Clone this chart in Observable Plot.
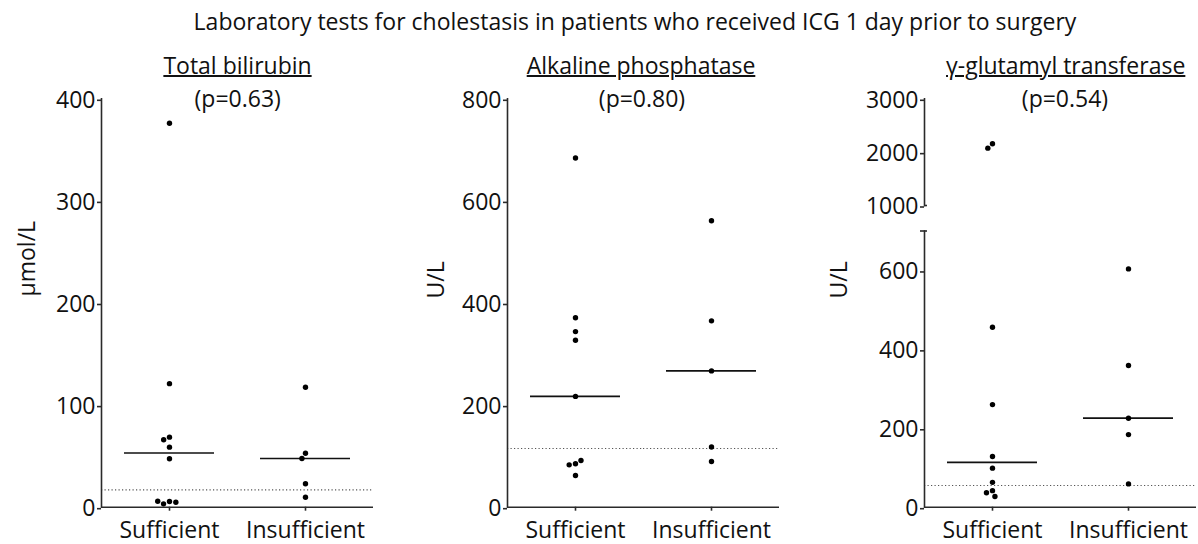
<!DOCTYPE html>
<html><head><meta charset="utf-8">
<script src="https://cdn.jsdelivr.net/npm/d3@7"></script>
<script src="https://cdn.jsdelivr.net/npm/@observablehq/plot@0.6"></script>
<style>
body{margin:0;background:#fff;}
#root{position:relative;width:1198px;height:544px;font-family:"Open Sans",sans-serif;color:#111;overflow:hidden;}
.t{position:absolute;white-space:nowrap;font-size:23px;line-height:23px;transform:translateX(-50%);}
.u{text-decoration:underline;text-decoration-thickness:1.5px;}
#root svg{position:absolute;top:0;overflow:visible;background:transparent;}
</style></head><body><div id="root"></div>
<script>
const chartTitle = "Laboratory tests for cholestasis in patients who received ICG 1 day prior to surgery";
const groups = ["Sufficient", "Insufficient"];
const panelTitles = ["Total bilirubin", "Alkaline phosphatase", "γ-glutamyl transferase"];
const pValues = ["(p=0.63)", "(p=0.80)", "(p=0.54)"];
const units = ["µmol/L", "U/L", "U/L"];

// Total bilirubin (µmol/L)
const bilirubinSufficient = [376, 121, 68.6, 66, 58.8, 47.4, 5.6, 3.3, 4.9, 5.9];
const bilirubinInsufficient = [117.5, 52.9, 47.7, 22.9, 9.8];
// Alkaline phosphatase (U/L)
const alpSufficient = [684, 371, 344, 327, 217, 85, 83, 91.5, 62];
const alpInsufficient = [561, 365, 267, 118, 89.5];
// gamma-glutamyl transferase (U/L)
const ggtSufficient = [2157, 2075, 456, 260, 128.5, 99, 63, 42, 36.5, 27];
const ggtInsufficient = [604, 359, 225.6, 184, 59];

// upper limits of normal (dotted lines)
const referenceLimits = [17, 115, 55];

const bilirubinTicks = [0, 100, 200, 300, 400];
const alpTicks = [0, 200, 400, 600, 800];
const ggtLowerTicks = [0, 200, 400, 600];
const ggtUpperTicks = [1000, 2000, 3000];
const ggtBreak = [700, 1000]; // lower segment top, upper segment bottom
const ggtUpperTop = 3000;

const rowsOf = (a, b) => [
  ...a.map(v => ({group: groups[0], value: v})),
  ...b.map(v => ({group: groups[1], value: v}))
];

const root = document.getElementById("root");
const FS = 23;
const style = {fontFamily: '"Open Sans", sans-serif', fontSize: FS + "px", color: "#111", background: "transparent", overflow: "visible"};
const INK = "#2a2a2a";
const fmt = d => String(d);

function addText(txt, cls, left, top) {
  const d = document.createElement("div");
  d.className = "t " + cls;
  d.textContent = txt;
  d.style.left = left + "px";
  d.style.top = top + "px";
  root.appendChild(d);
}
function place(svg, left) { svg.style.left = left + "px"; root.appendChild(svg); }

function lowerPanel({rows, yMax, ticks, limit, unit, width, ml, mr, mt, labelDx, labelDy, extraMarks = [], dotFilter = () => true}) {
  return Plot.plot({
    width, height: 544,
    marginLeft: ml, marginRight: mr, marginTop: mt, marginBottom: 37.3,
    style,
    fx: {domain: groups, padding: 0, label: null},
    y: {domain: [0, yMax], label: null},
    marks: [
      Plot.ruleY([limit], {stroke: "#555", strokeWidth: 1.1, strokeDasharray: "1.2 2.3"}),
      Plot.ruleY([0], {stroke: INK, strokeWidth: 1.6}),
      Plot.frame({anchor: "left", facetAnchor: "left", stroke: INK, strokeWidth: 1.6}),
      Plot.axisY({ticks, tickSize: 4, tickPadding: 2, tickFormat: fmt, label: null, stroke: INK, strokeWidth: 1.6, dy: 1.5, fontSize: FS, facetAnchor: "left"}),
      Plot.axisFx({anchor: "bottom", tickSize: 4, tickPadding: 10, label: null, stroke: INK, strokeWidth: 1.6, fontSize: FS}),
      ...extraMarks,
      Plot.ruleY(rows, Plot.groupZ({y: "median"}, {fx: "group", y: "value", insetLeft: 23, insetRight: 23, stroke: "#111", strokeWidth: 1.7})),
      Plot.dot(rows, Plot.dodgeX("middle", {fx: "group", y: "value", filter: d => dotFilter(d.value), r: 2.7, padding: 1, fill: "#000", stroke: null})),
      Plot.text([unit], {frameAnchor: "left", rotate: -90, dx: labelDx, dy: labelDy, fontSize: FS, facetAnchor: "left", fill: "#111"})
    ]
  });
}

// Panel 1
place(lowerPanel({rows: rowsOf(bilirubinSufficient, bilirubinInsufficient), yMax: 400, ticks: bilirubinTicks,
  limit: referenceLimits[0], unit: units[0], width: 400, ml: 100, mr: 27, mt: 98.3, labelDx: -74, labelDy: -6.5}), 0);

// Panel 2
place(lowerPanel({rows: rowsOf(alpSufficient, alpInsufficient), yMax: 800, ticks: alpTicks,
  limit: referenceLimits[1], unit: units[1], width: 400, ml: 106.7, mr: 20, mt: 98.3, labelDx: -71, labelDy: -4.5}), 400);

// Panel 3 (broken axis): lower part 0–700
const ggtRows = rowsOf(ggtSufficient, ggtInsufficient);
place(lowerPanel({rows: ggtRows, yMax: ggtBreak[0], ticks: ggtLowerTicks,
  limit: referenceLimits[2], unit: units[2], width: 398, ml: 123.3, mr: 1.3, mt: 230.5, labelDx: -85.3, labelDy: -70.6,
  dotFilter: v => v <= ggtBreak[0],
  extraMarks: [
    Plot.axisY({ticks: [ggtBreak[0]], tickSize: 4, tickFormat: () => "", stroke: INK, strokeWidth: 1.6, facetAnchor: "left"}),
    Plot.axisY({ticks: [ggtBreak[0]], tickSize: -3, tickFormat: () => "", stroke: INK, strokeWidth: 1.6, facetAnchor: "left"})
  ]}), 800);

// Panel 3 upper part 1000–3000
place(Plot.plot({
  width: 398, height: 544,
  marginLeft: 123.3, marginRight: 1.3, marginTop: 98.3, marginBottom: 339,
  style,
  fx: {domain: groups, padding: 0, axis: null},
  y: {domain: [ggtBreak[1], ggtUpperTop], label: null},
  marks: [
    Plot.frame({anchor: "left", facetAnchor: "left", stroke: INK, strokeWidth: 1.6}),
    Plot.axisY({ticks: ggtUpperTicks, tickSize: 4, tickPadding: 2, tickFormat: fmt, label: null, stroke: INK, strokeWidth: 1.6, dy: 1.5, fontSize: FS, facetAnchor: "left"}),
    Plot.axisY({ticks: [ggtBreak[1]], tickSize: -3, tickFormat: () => "", stroke: INK, strokeWidth: 1.6, facetAnchor: "left"}),
    Plot.dot(ggtRows, Plot.dodgeX("middle", {fx: "group", y: "value", filter: d => d.value >= ggtBreak[1], r: 2.7, padding: 1, fill: "#000", stroke: null}))
  ]
}), 800);

// Titles
addText(chartTitle, "", 635, 9.6);
const titleX = [237.5, 641, 1065.7];
const pX = [237.7, 642, 1065];
panelTitles.forEach((t, i) => addText(t, "u", titleX[i], 53.6));
pValues.forEach((t, i) => addText(t, "", pX[i], 86.6));
</script></body></html>
